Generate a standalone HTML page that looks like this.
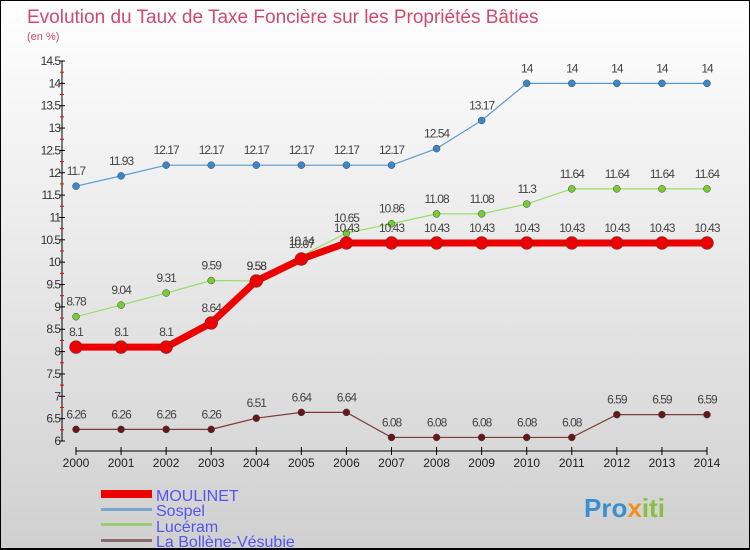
<!DOCTYPE html>
<html><head><meta charset="utf-8"><style>
body{margin:0}
#c{position:relative;width:750px;height:550px;overflow:hidden;box-sizing:border-box;border:1px solid #000;border-bottom:2px solid #000;background:linear-gradient(#ffffff,#d0d0d0);font-family:"Liberation Sans",sans-serif}
</style></head><body>
<div id="c">
<svg id="s" width="750" height="550" style="position:absolute;left:0;top:0">
<text x="26" y="22" font-size="19" fill="#d04a6a">Evolution du Taux de Taxe Foncière sur les Propriétés Bâties</text>
<text x="26" y="39" font-size="11" fill="#d04a6a">(en %)</text>
<g id="ax"></g><g id="ser"></g>
<g>
<rect x="100" y="489" width="51" height="8" fill="#ee0000"/>
<rect x="100" y="507" width="51" height="3" fill="#7aa6cc"/>
<rect x="100" y="522" width="51" height="3" fill="#99cc77"/>
<rect x="100" y="538" width="51" height="3" fill="#8a6a6a"/>
<text x="155" y="500" font-size="16" fill="#5555ee">MOULINET</text>
<text x="155" y="515" font-size="16" fill="#5555ee">Sospel</text>
<text x="155" y="531" font-size="16" fill="#5555ee">Lucéram</text>
<text x="155" y="546" font-size="16" fill="#5555ee">La Bollène-Vésubie</text>
</g>
<text x="583" y="516" font-size="26" font-weight="bold" fill="#3a8fd0">Pro<tspan fill="#f09020">x</tspan><tspan fill="#88c040">iti</tspan></text>
</svg>
</div>
<script>
const years=[2000,2001,2002,2003,2004,2005,2006,2007,2008,2009,2010,2011,2012,2013,2014];
const moulinet=[8.1,8.1,8.1,8.64,9.58,10.07,10.43,10.43,10.43,10.43,10.43,10.43,10.43,10.43,10.43];
const sospel=[11.7,11.93,12.17,12.17,12.17,12.17,12.17,12.17,12.54,13.17,14,14,14,14,14];
const luceram=[8.78,9.04,9.31,9.59,9.58,10.14,10.65,10.86,11.08,11.08,11.3,11.64,11.64,11.64,11.64];
const bollene=[6.26,6.26,6.26,6.26,6.51,6.64,6.64,6.08,6.08,6.08,6.08,6.08,6.59,6.59,6.59];
const yTicks=[6,6.5,7,7.5,8,8.5,9,9.5,10,10.5,11,11.5,12,12.5,13,13.5,14,14.5];
const NS="http://www.w3.org/2000/svg";
const X=i=>75+i*(706-75)/(years.length-1);
const Y=v=>440-(v-6)*(380/8.5);
function mk(t,a,p){const e=document.createElementNS(NS,t);for(const k in a)e.setAttribute(k,a[k]);p.appendChild(e);return e;}
const ax=document.getElementById('ax');
let l=mk('line',{x1:61,y1:60,x2:61,y2:440,stroke:'#000'},ax);


l=mk('line',{x1:75,y1:450,x2:706,y2:450,stroke:'#000'},ax);


yTicks.forEach(v=>{
 const y=Y(v);
 mk('line',{x1:58,x2:64,y1:y,y2:y,stroke:'#000'},ax);
 const m=Y(v+0.25); if(v<14.5) mk('line',{x1:59,x2:63,y1:m,y2:m,stroke:'#e00'},ax);
 const t=mk('text',{x:59,y:y+4,'font-size':12,'text-anchor':'end',fill:'#333','letter-spacing':'-1'},ax);
 t.textContent=v;
 
 
});
years.forEach((yr,i)=>{
 mk('line',{x1:X(i),x2:X(i),y1:446,y2:454,stroke:'#000'},ax);
 const t=mk('text',{x:X(i),y:466,'font-size':12,'text-anchor':'middle',fill:'#222'},ax);
 t.textContent=yr;
 
 
});
const ser=document.getElementById('ser');
function draw(vals,name,color,dot,w,r){
 const g=mk('g',{},ser);
 
 
 mk('polyline',{points:vals.map((v,i)=>X(i)+','+Y(v)).join(' '),fill:'none',stroke:color,'stroke-width':w},g);
 vals.forEach((v,i)=>{
  const c=mk('circle',{cx:X(i),cy:Y(v),r:r,fill:dot,stroke:'#444','stroke-width':0.5},g);
  
  
  const t=mk('text',{x:X(i),y:Y(v)-11,'font-size':12,'text-anchor':'middle',fill:'#444','letter-spacing':'-1'},g);
  t.textContent=v;
  
  
 });
}
draw(sospel,'sospel','#5a9ad0','#3a88cc',1.2,3.5);
draw(luceram,'luceram','#99dd66','#77cc33',1.2,3.5);
draw(bollene,'bollene','#7a3a3a','#661818',1.2,3.5);
draw(moulinet,'moulinet','#ee0000','#ee0000',7,6.5);
</script>
</body></html>
